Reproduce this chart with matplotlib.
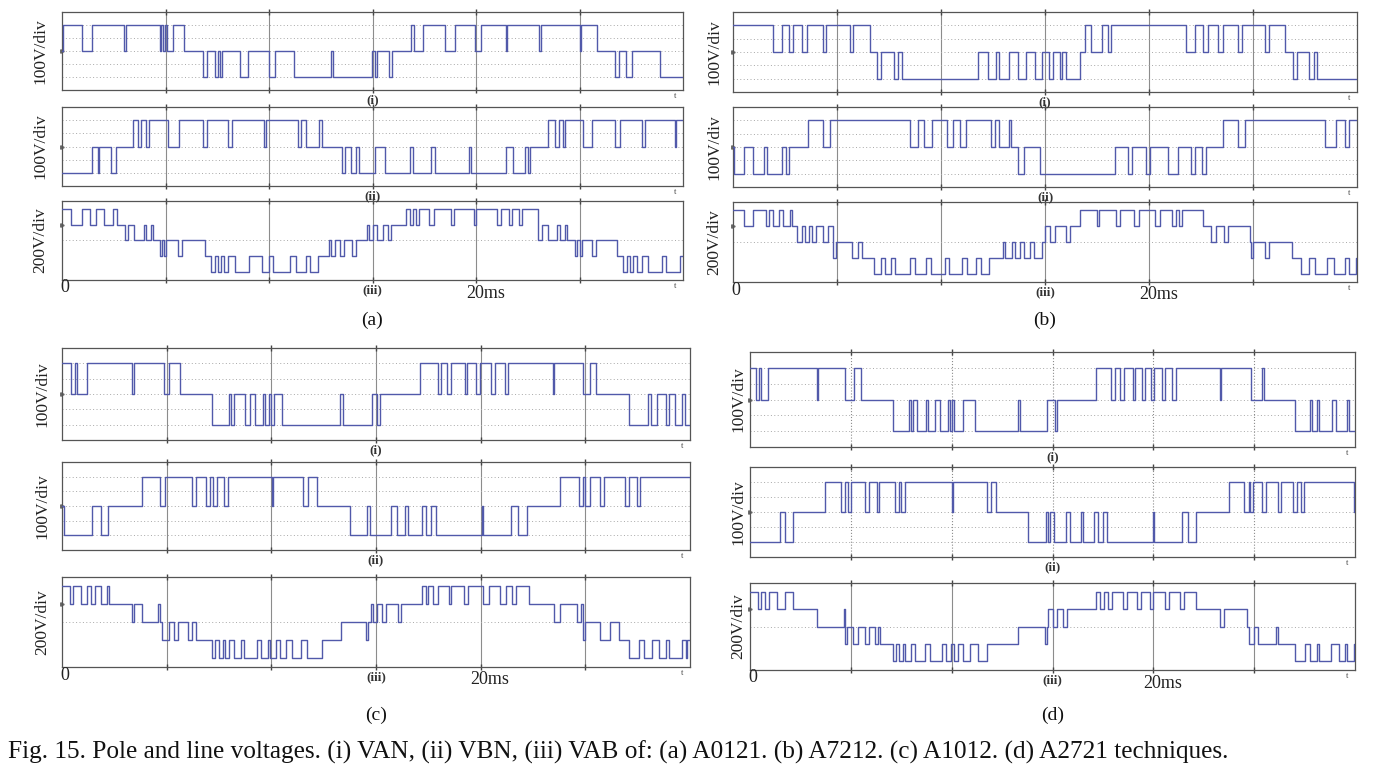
import matplotlib
matplotlib.use("Agg")
import matplotlib.pyplot as plt

plt.rcParams["font.family"] = ["Liberation Serif", "DejaVu Serif"]

TRACE = "#5159aa"
GRIDC = "#8c8c8c"
SPINE = "#555555"

# switching instants (ms) and the level held from that instant on
A_VAN = [(0, 0), (0.05, 1), (0.95, 0), (1.45, 1), (3.0, 0), (3.1, 1), (4.72, 0), (4.8, 1), (4.9, 0),
         (4.97, 1), (5.05, 0), (5.35, 1), (5.88, 0), (6.8, -1), (7.0, 0), (7.38, -1), (7.52, 0),
         (7.64, -1), (7.75, 0), (8.62, -1), (9.0, 0), (10.0, -1), (10.28, 0), (11.2, -1), (13.0, 0),
         (13.1, -1), (14.98, 0), (15.1, -1), (15.2, 0), (15.82, -1), (15.95, 0), (16.87, 1), (17.0, 0),
         (17.45, 1), (18.5, 0), (18.97, 1), (19.93, 0), (20.26, 1), (21.44, 0), (21.52, 1), (23.05, 0),
         (23.13, 1), (25.0, 0), (25.08, 1), (25.86, 0), (26.7, -1), (26.9, 0), (27.27, -1), (27.55, 0),
         (28.9, -1)]
A_VBN = [(0, -1), (1.44, 0), (1.75, -1), (1.8, 0), (2.37, -1), (2.6, 0), (3.45, 1), (3.66, 0), (3.81, 1),
         (4.05, 0), (4.2, 1), (5.1, 0), (5.67, 1), (6.79, 0), (7.0, 1), (8.04, 0), (8.19, 1), (9.78, 0),
         (9.85, 1), (11.42, 0), (11.55, 1), (11.81, 0), (12.43, 1), (12.56, 0), (13.51, -1), (13.69, 0),
         (13.94, -1), (14.22, 0), (14.33, -1), (15.13, 0), (15.58, -1), (16.81, 0), (16.98, -1),
         (17.82, 0), (18.04, -1), (19.68, 0), (19.76, -1), (21.44, 0), (21.77, -1), (22.35, 0),
         (22.52, -1), (22.6, 0), (23.49, 1), (23.81, 0), (24.03, 1), (24.2, 0), (24.29, 1), (25.17, 0),
         (25.58, 1), (26.72, 0), (26.94, 1), (28.02, 0), (28.17, 1), (29.6, 0), (29.68, 1)]
A_VAB = [(0, 2), (0.43, 1), (0.97, 2), (1.36, 1), (1.62, 2), (2.05, 1), (2.48, 2), (2.65, 1), (3.02, 0),
         (3.2, 1), (3.5, 0), (3.94, 1), (4.08, 0), (4.31, 1), (4.42, 0), (4.74, -1), (4.84, 0), (4.92, -1),
         (5.0, 0), (5.6, -1), (5.8, 0), (6.9, -1), (7.22, -2), (7.4, -1), (7.55, -2), (7.7, -1),
         (7.85, -2), (8.0, -1), (8.35, -2), (9.05, -1), (9.65, -2), (10.0, -1), (10.2, -2), (11.0, -1),
         (11.3, -2), (11.8, -1), (12.0, -2), (12.35, -1), (12.9, 0), (13.0, -1), (13.2, 0), (13.45, -1),
         (13.6, 0), (14.0, -1), (14.2, 0), (14.75, 1), (14.85, 0), (15.0, 1), (15.2, 0), (15.5, 1),
         (15.75, 0), (15.9, 1), (16.6, 2), (16.8, 1), (16.95, 2), (17.1, 1), (17.25, 2), (17.75, 1),
         (17.95, 2), (18.8, 1), (18.95, 2), (19.9, 1), (20.0, 2), (21.0, 1), (21.2, 2), (21.6, 1),
         (21.75, 2), (22.1, 1), (22.2, 2), (23.0, 0), (23.2, 1), (23.5, 0), (23.9, 1), (24.05, 0),
         (24.3, 1), (24.4, 0), (24.8, -1), (24.9, 0), (25.0, -1), (25.1, 0), (25.6, -1), (25.8, 0),
         (26.8, -1), (27.1, -2), (27.3, -1), (27.45, -2), (27.6, -1), (27.8, -2), (28.0, -1), (28.3, -2),
         (29.0, -1), (29.2, -2), (29.85, -1)]

B_VAN = [(0, 1), (1.91, 0), (2.34, 1), (2.7, 0), (2.87, 1), (3.3, 0), (3.55, 1), (4.35, 0), (4.45, 1),
         (5.63, 0), (5.75, 1), (6.58, 0), (6.9, -1), (7.1, 0), (7.75, -1), (7.95, 0), (8.13, -1),
         (11.78, 0), (12.25, -1), (12.63, 0), (12.8, -1), (13.27, 0), (13.7, -1), (14.1, 0), (14.5, -1),
         (14.86, 0), (15.2, -1), (15.4, 0), (15.7, -1), (15.8, 0), (16.0, -1), (16.7, 0), (16.92, 1),
         (17.2, 0), (17.73, 1), (18.05, 0), (18.15, 1), (21.76, 0), (22.2, 1), (22.6, 0), (22.85, 1),
         (23.3, 0), (23.55, 1), (24.3, 0), (24.45, 1), (25.6, 0), (25.75, 1), (26.55, 0), (26.9, -1),
         (27.1, 0), (27.7, -1), (27.95, 0), (28.1, -1)]
B_VBN = [(0, 0), (0.07, -1), (0.53, 0), (0.96, -1), (1.49, 0), (1.65, -1), (2.34, 0), (2.55, -1),
         (2.68, 0), (3.6, 1), (4.35, 0), (4.67, 1), (8.5, 0), (8.9, 1), (9.2, 0), (9.55, 1), (10.3, 0),
         (10.6, 1), (10.93, 0), (11.2, 1), (12.42, 0), (12.6, 1), (12.8, 0), (13.27, 1), (13.38, 0),
         (13.7, -1), (14.0, 0), (14.76, -1), (18.37, 0), (19.0, -1), (19.2, 0), (19.85, -1), (20.05, 0),
         (20.9, -1), (21.4, 0), (22.0, -1), (22.2, 0), (22.55, -1), (22.75, 0), (23.57, 1), (24.3, 0),
         (24.63, 1), (28.45, 0), (29.0, 1), (29.4, 0), (29.6, 1)]
B_VAB = [(0, 2), (0.53, 1), (0.96, 2), (1.59, 1), (1.75, 2), (1.9, 1), (2.23, 2), (2.4, 1), (2.76, 2),
         (2.85, 1), (3.1, 0), (3.3, 1), (3.45, 0), (3.65, 1), (3.8, 0), (4.0, 1), (4.35, 0), (4.55, 1),
         (4.8, -1), (4.95, 0), (5.73, -1), (6.0, 0), (6.2, -1), (6.79, -2), (7.1, -1), (7.3, -2),
         (7.6, -1), (7.8, -2), (8.5, -1), (8.75, -2), (9.3, -1), (9.5, -2), (10.2, -1), (10.4, -2),
         (11.0, -1), (11.25, -2), (11.7, -1), (11.9, -2), (12.3, -1), (13.0, 0), (13.1, -1),
         (13.4, 0), (13.55, -1), (13.8, 0), (14.0, -1), (14.3, 0), (14.45, -1), (14.86, 0), (15.0, 1),
         (15.25, 0), (15.5, 1), (16.0, 0), (16.2, 1), (16.67, 2), (17.5, 1), (17.6, 2), (18.4, 1),
         (18.6, 2), (19.3, 1), (19.5, 2), (20.3, 1), (20.55, 2), (21.1, 1), (21.3, 2), (21.45, 1),
         (21.6, 2), (22.6, 1), (23.0, 0), (23.2, 1), (23.6, 0), (23.8, 1), (24.84, 0), (24.9, -1),
         (25.0, 0), (25.6, -1), (25.75, 0), (26.86, -1), (27.3, -2), (27.7, -1), (28.0, -2), (28.55, -1),
         (28.9, -2), (29.4, -1), (29.6, -2), (29.95, -1)]

C_VAN = [(0, 1), (0.45, 0), (0.6, 1), (0.7, 0), (1.2, 1), (3.36, 0), (3.42, 1), (4.87, 0), (5.13, 1),
         (5.62, 0), (7.16, -1), (7.97, 0), (8.07, -1), (8.22, 0), (8.72, -1), (8.97, 0), (9.2, -1),
         (9.6, 0), (9.7, -1), (9.9, 0), (10.0, -1), (10.15, 0), (10.5, -1), (13.3, 0), (13.4, -1),
         (14.8, 0), (15.06, -1), (15.2, 0), (17.1, 1), (17.95, 0), (18.1, 1), (18.4, 0), (18.6, 1),
         (19.23, 0), (19.35, 1), (19.76, 0), (19.95, 1), (20.5, 0), (20.7, 1), (21.15, 0), (21.3, 1),
         (23.45, 0), (23.52, 1), (24.9, 0), (25.2, 1), (25.5, 0), (27.1, -1), (28.0, 0), (28.12, -1),
         (28.4, 0), (28.85, -1), (29.0, 0), (29.3, -1), (29.6, 0), (29.75, -1)]
C_VBN = [(0, 0), (0.1, -1), (1.43, 0), (1.88, -1), (2.18, 0), (3.8, 1), (4.66, 0), (4.9, 1), (6.2, 0),
         (6.4, 1), (6.9, 0), (7.05, 1), (7.2, 0), (7.4, 1), (7.75, 0), (7.95, 1),
         (10.02, 0), (10.1, 1), (11.5, 0), (11.75, 1), (12.2, 0), (13.78, -1), (14.57, 0), (14.7, -1),
         (15.7, 0), (16.0, -1), (16.4, 0), (16.55, -1), (17.2, 0), (17.4, -1), (17.65, 0), (17.85, -1),
         (20.04, 0), (20.12, -1), (21.47, 0), (21.8, -1), (22.2, 0), (23.8, 1), (24.7, 0), (24.9, 1),
         (25.0, 0), (25.2, 1), (25.7, 0), (25.9, 1), (26.9, 0), (27.1, 1), (27.45, 0), (27.6, 1)]
C_VAB = [(0, 2), (0.38, 1), (0.53, 2), (0.9, 1), (1.18, 2), (1.39, 1), (1.6, 2), (1.88, 1), (2.14, 2),
         (2.24, 1), (3.36, 0), (3.42, 1), (3.8, 0), (4.6, 1), (4.68, 0), (4.8, -1), (5.1, 0), (5.35, -1),
         (5.55, 0), (6.0, -1), (6.2, 0), (6.4, -1), (7.16, -2), (7.3, -1), (7.5, -2), (7.7, -1),
         (7.8, -2), (8.0, -1), (8.2, -2), (8.55, -1), (8.7, -2), (9.3, -1), (9.5, -2), (9.85, -1),
         (9.95, -2), (10.2, -1), (10.4, -2), (10.7, -1), (11.0, -2), (11.4, -1), (11.7, -2), (12.4, -1),
         (13.35, 0), (14.5, -1), (14.6, 0), (14.75, 1), (14.85, 0), (15.06, 1), (15.3, 0), (15.5, 1),
         (16.05, 0), (16.2, 1), (17.2, 2), (17.4, 1), (17.5, 2), (17.7, 1), (17.95, 2), (18.5, 1),
         (18.6, 2), (19.2, 1), (19.4, 2), (20.1, 1), (20.4, 2), (20.9, 1), (21.2, 2), (21.5, 1),
         (21.7, 2), (22.33, 1), (23.5, 0), (23.8, 1), (24.6, 0), (24.8, 1), (24.9, -1), (25.0, 0),
         (25.7, -1), (26.2, 0), (26.6, -1), (27.1, -2), (27.55, -1), (27.8, -2), (28.2, -1), (28.5, -2),
         (28.85, -1), (29.0, -2), (29.6, -1), (29.8, -2), (29.85, -1)]

D_VAN = [(0, 1), (0.3, 0), (0.45, 1), (0.55, 0), (0.9, 1), (3.3, 0), (3.36, 1), (4.72, 0), (5.15, 1),
         (5.48, 0), (7.1, -1), (7.86, 0), (7.98, -1), (8.1, 0), (8.29, -1), (8.72, 0), (8.85, -1),
         (9.16, 0), (9.4, -1), (9.8, 0), (9.9, -1), (10.0, 0), (10.1, -1), (10.56, 0), (11.15, -1),
         (13.3, 0), (13.38, -1), (14.74, 0), (15.1, -1), (15.2, 0), (17.16, 1), (17.92, 0), (18.1, 1),
         (18.35, 0), (18.55, 1), (19.0, 0), (19.1, 1), (19.45, 0), (19.6, 1), (19.9, 0), (20.05, 1),
         (20.45, 0), (20.6, 1), (20.95, 0), (21.1, 1), (23.3, 0), (23.36, 1), (24.85, 0), (25.4, 1),
         (25.5, 0), (27.0, -1), (27.77, 0), (27.88, -1), (28.1, 0), (28.2, -1), (28.85, 0), (29.05, -1),
         (29.6, 0), (29.7, -1)]
D_VBN = [(0, -1), (1.47, 0), (1.75, -1), (2.12, 0), (3.74, 1), (4.5, 0), (4.72, 1), (4.85, 0), (5.0, 1),
         (5.7, 0), (5.9, 1), (6.3, 0), (6.4, 1), (7.2, 0), (7.4, 1), (7.5, 0), (7.7, 1), (10.0, 0),
         (10.05, 1), (11.75, 0), (11.95, 1), (12.18, 0), (13.8, -1), (14.68, 0), (14.78, -1), (14.9, 0),
         (15.05, -1), (15.65, 0), (15.85, -1), (16.4, 0), (16.5, -1), (17.05, 0), (17.25, -1), (17.5, 0),
         (17.7, -1), (19.98, 0), (20.05, -1), (21.4, 0), (21.7, -1), (22.1, 0), (23.77, 1), (24.5, 0),
         (24.72, 1), (24.8, 0), (24.95, 1), (25.4, 0), (25.6, 1), (26.2, 0), (26.35, 1), (26.95, 0),
         (27.1, 1), (27.3, 0), (27.45, 1), (29.95, 0)]
D_VAB = [(0, 2), (0.39, 1), (0.55, 2), (0.76, 1), (0.93, 2), (1.36, 1), (1.75, 2), (2.12, 1), (3.31, 0),
         (4.65, 1), (4.72, -1), (4.8, 0), (5.1, -1), (5.35, 0), (5.7, -1), (5.9, 0), (6.2, -1), (6.35, 0),
         (6.45, -1), (7.1, -2), (7.25, -1), (7.4, -2), (7.6, -1), (7.7, -2), (8.0, -1), (8.2, -2),
         (8.7, -1), (8.95, -2), (9.5, -1), (9.7, -2), (9.95, -1), (10.1, -2), (10.3, -1), (10.55, -2),
         (10.9, -1), (11.3, -2), (11.75, -1), (13.3, 0), (14.65, -1), (14.72, 0),
         (14.8, 1), (15.0, 0), (15.2, 1), (15.5, 0), (15.7, 1), (17.16, 2), (17.35, 1),
         (17.55, 2), (17.75, 1), (17.95, 2), (18.5, 1), (18.7, 2), (19.2, 1), (19.4, 2), (19.85, 1),
         (20.0, 2), (20.6, 1), (20.8, 2), (21.3, 1), (21.5, 2), (22.14, 1), (23.33, 0), (23.5, 1),
         (24.63, 0), (24.74, -1), (25.0, 0), (25.2, -1), (26.1, 0), (26.2, -1), (27.0, -2), (27.5, -1),
         (27.75, -2), (28.1, -1), (28.2, -2), (28.8, -1), (29.2, -2), (29.5, -1), (29.6, -2),
         (29.95, -1)]

PANELS = {"a": [A_VAN, A_VBN, A_VAB], "b": [B_VAN, B_VBN, B_VAB],
          "c": [C_VAN, C_VBN, C_VAB], "d": [D_VAN, D_VBN, D_VAB]}
YLABELS = ["100V/div", "100V/div", "200V/div"]
ROMAN = ["(i)", "(ii)", "(iii)"]

W, H = 1378, 768
# pixel boxes: x0, x1, (top, bottom) of the three traces, y-label x, caption y
BOXES = {
    "a": (62, 683, [(12, 90), (107, 186), (201, 280)], 40, 320),
    "b": (733, 1357, [(12, 92), (107, 187), (202, 282)], 714, 320),
    "c": (62, 690, [(348, 440), (462, 550), (577, 667)], 42, 715),
    "d": (750, 1355, [(352, 447), (467, 557), (583, 670)], 738, 715),
}

fig = plt.figure(figsize=(W / 100, H / 100), dpi=100)


def px_axes(x0, x1, top, bot):
    return fig.add_axes([x0 / W, 1 - bot / H, (x1 - x0) / W, (bot - top) / H])


for key, (x0, x1, rows, ylx, cap_y) in BOXES.items():
    for k, ((top, bot), trace) in enumerate(zip(rows, PANELS[key])):
        ax = px_axes(x0, x1, top, bot)
        lim = 1.5 if k < 2 else 2.5
        ax.set_xlim(0, 30)
        ax.set_ylim(-lim, lim)
        ax.set_xticks([])
        ax.set_yticks([])
        for s in ax.spines.values():
            s.set_color(SPINE)
            s.set_linewidth(0.9)
        vls = ":" if (key == "d" and k < 2) else "-"
        for xv in range(5, 30, 5):
            ax.axvline(xv, color=GRIDC, lw=0.8, ls=vls, zorder=1)
            ax.plot([xv], [-lim], marker="|", ms=5, color="#444444", clip_on=False)
            ax.plot([xv], [lim], marker="|", ms=5, color="#444444", clip_on=False)
        hl = [-1, -0.5, 0, 0.5, 1] if k < 2 else [0]
        for yv in hl:
            ax.axhline(yv, color="#a8a8a8", lw=0.7, ls=(0, (1, 2.5)), zorder=1)
        t = [p[0] for p in trace] + [30]
        v = [p[1] for p in trace] + [trace[-1][1]]
        ax.step(t, v, where="post", color=TRACE, lw=1.0, zorder=3)
        ax.plot([0], [0 if k < 2 else 1], marker=">", ms=2.5, color="#666666", clip_on=False)

        ycen = (top + bot) / 2
        fig.text(ylx / W, 1 - ycen / H, YLABELS[k], rotation=90, ha="center", va="center",
                 fontsize=12.5, color="#222222")
        xc = x0 + (x1 - x0) / 2
        fig.text(xc / W, 1 - (bot + 10) / H, ROMAN[k], ha="center", va="center",
                 fontsize=9.5, fontweight="bold", color="#333333")
        fig.text((x1 - 8) / W, 1 - (bot + 6) / H, "t", ha="center", va="center",
                 fontsize=6, color="#444444")
        if k == 2:
            fig.text((x0 + 3) / W, 1 - (bot + 8) / H, "0", ha="center", va="center",
                     fontsize=13, color="#222222")
            x20 = x0 + (x1 - x0) * 20 / 30
            fig.text((x20 - 10) / W, 1 - (bot + 13) / H, "20ms", ha="left", va="center",
                     fontsize=13, color="#222222")
    fig.text((x0 + (x1 - x0) / 2) / W, 1 - cap_y / H, "(%s)" % key, ha="center", va="center",
             fontsize=14, color="#111111")

fig.text(8 / W, 1 - 752 / H,
         "Fig. 15. Pole and line voltages. (i) VAN, (ii) VBN, (iii) VAB of: (a) A0121. (b) A7212. "
         "(c) A1012. (d) A2721 techniques.",
         ha="left", va="center", fontsize=18.2, color="#111111")

fig.savefig("out.png", dpi=100, facecolor="white")
